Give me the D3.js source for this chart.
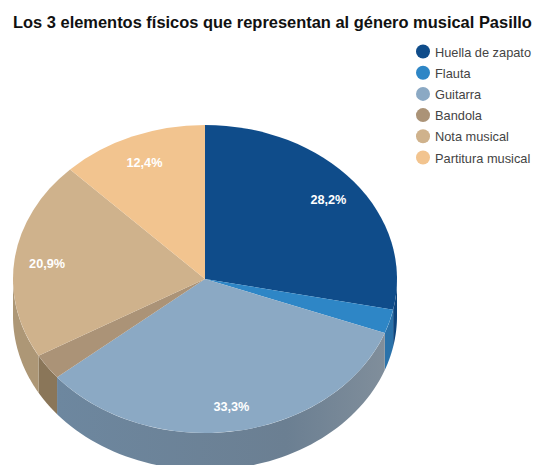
<!DOCTYPE html>
<html><head><meta charset="utf-8">
<script src="https://cdn.jsdelivr.net/npm/d3@7/dist/d3.min.js"></script>
<style>html,body{margin:0;padding:0;background:#fff;overflow:hidden}svg{display:block}text{font-family:"Liberation Sans",Arial,sans-serif}</style>
</head><body><svg id="c" width="536" height="465"></svg>
<script>
const categories=["Huella de zapato","Flauta","Guitarra","Bandola","Nota musical","Partitura musical"];
const values=[28.2,2.5,33.3,2.7,20.9,12.4];
const labels=["28,2%","","33,3%","","20,9%","12,4%"];
const topColors=["#0f4c8a","#2e86c6","#8ba9c4","#ab9377","#cfb28c","#f2c48f"];
const sideColors=["#0d447c","#2a72aa","url(#gw)","#8a7659","#ad9776","#c9a377"];
const titleText="Los 3 elementos físicos que representan al género musical Pasillo";

const cx=205,cy=279,rx=192,ry=154,depth=37;
const svg=d3.select("#c");
const grad=svg.append("defs").append("linearGradient").attr("id","gw");
grad.append("stop").attr("offset","0").attr("stop-color","#6d879f");
grad.append("stop").attr("offset","0.7").attr("stop-color","#6b7f92");
grad.append("stop").attr("offset","1").attr("stop-color","#808e9b");
const sy=d3.scaleLinear().domain([-rx,rx]).range([cy-ry,cy+ry]);
const sx=d3.scaleLinear().domain([-rx,rx]).range([cx-rx,cx+rx]);
const arcs=d3.pie().sort(null).value(d=>d)(values);
const arc=d3.arc().innerRadius(0).outerRadius(rx);

// side walls: front-facing part of each slice (angle between 90° and 270° from top)
const lo=Math.PI/2,hi=3*Math.PI/2;
function wall(a0,a1){
  const p=d3.path(),n=60;
  const X=a=>sx(rx*Math.sin(a)),Y=a=>sy(-rx*Math.cos(a));
  p.moveTo(X(a0),Y(a0));
  for(let i=1;i<=n;i++){const a=a0+(a1-a0)*i/n;p.lineTo(X(a),Y(a));}
  for(let i=n;i>=0;i--){const a=a0+(a1-a0)*i/n;p.lineTo(X(a),Y(a)+depth);}
  p.closePath();return p.toString();
}
const wallG=svg.append("g");
arcs.forEach((d,i)=>{
  const a0=Math.max(d.startAngle,lo),a1=Math.min(d.endAngle,hi);
  if(a1>a0) wallG.append("path").attr("d",wall(a0,a1)).attr("fill",sideColors[i]);
});
const topG=svg.append("g").attr("transform",`translate(${cx},${cy}) scale(1,${ry/rx})`);
topG.selectAll("path").data(arcs).join("path").attr("d",arc).attr("fill",(d,i)=>topColors[i]);

const lr=rx*0.83;
arcs.forEach((d,i)=>{
  if(!labels[i])return;
  const a=(d.startAngle+d.endAngle)/2;
  svg.append("text").attr("x",sx(lr*Math.sin(a))).attr("y",sy(-lr*Math.cos(a))+6)
    .attr("text-anchor","middle").attr("font-size",12.7).attr("font-weight","bold").attr("fill","#fff").text(labels[i]);
});

svg.append("text").attr("x",13).attr("y",28).attr("font-size",16.45).attr("font-weight","bold").attr("fill","#111").text(titleText);

const ly=d3.scalePoint().domain(categories).range([51.5,157.5]);
const lg=svg.append("g").selectAll("g").data(categories).join("g").attr("transform",d=>`translate(0,${ly(d)})`);
lg.append("circle").attr("cx",423).attr("r",7).attr("fill",(d,i)=>topColors[i]);
lg.append("text").attr("x",435).attr("y",5).attr("font-size",12.8).attr("fill","#444").text(d=>d);
</script></body></html>
